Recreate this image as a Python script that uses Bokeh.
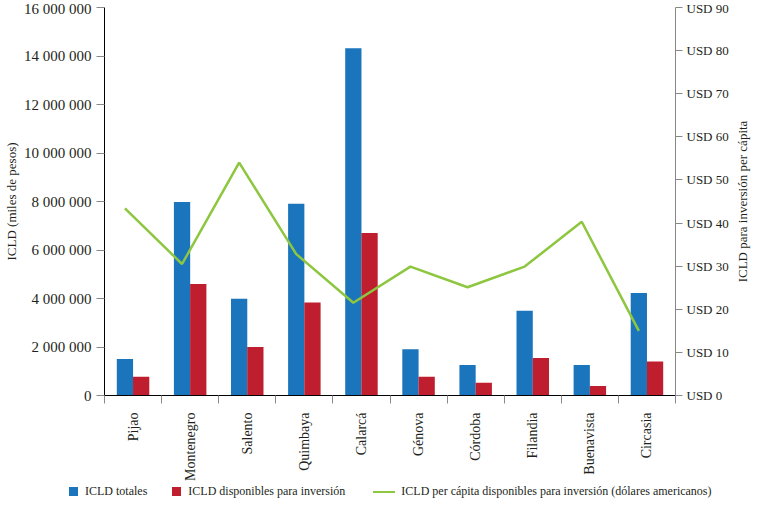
import numpy as np
from bokeh.plotting import figure
from bokeh.layouts import row, column
from bokeh.models import (Range1d, LinearAxis, FixedTicker, CustomJSTickFormatter,
                          ColumnDataSource, Div)
from bokeh.embed import file_html
from bokeh.resources import INLINE

categories = ["Pijao", "Montenegro", "Salento", "Quimbaya", "Calarcá",
              "Génova", "Córdoba", "Filandia", "Buenavista", "Circasia"]
icld_totales = [1510000, 7980000, 3990000, 7910000, 14320000,
                1910000, 1260000, 3490000, 1260000, 4230000]
icld_disponibles = [770000, 4600000, 2000000, 3840000, 6700000,
                    770000, 530000, 1550000, 390000, 1400000]
per_capita_usd = [43.4, 30.5, 54.0, 32.8, 21.5, 29.9, 25.1, 29.9, 40.3, 15.0]

left_ticks = [0, 2000000, 4000000, 6000000, 8000000, 10000000, 12000000, 14000000, 16000000]
left_tick_labels = ["0", "2 000 000", "4 000 000", "6 000 000", "8 000 000",
                    "10 000 000", "12 000 000", "14 000 000", "16 000 000"]
right_ticks = [0, 10, 20, 30, 40, 50, 60, 70, 80, 90]
right_tick_labels = ["USD 0", "USD 10", "USD 20", "USD 30", "USD 40",
                     "USD 50", "USD 60", "USD 70", "USD 80", "USD 90"]
legend_labels = ["ICLD totales", "ICLD disponibles para inversión",
                 "ICLD per cápita disponibles para inversión (dólares americanos)"]
left_title = "ICLD (miles de pesos)"
right_title = "ICLD para inversión per cápita"

BLUE = "#1b75bc"
RED = "#be1e2d"
GREEN = "#8dc63f"
TXT = "#231f20"
FONT = "Liberation Serif"

idx = np.arange(len(categories))
src = ColumnDataSource(dict(
    x_tot=idx + 0.5 - 0.142,
    x_disp=idx + 0.5 + 0.142,
    tot=icld_totales,
    disp=icld_disponibles,
    usd=per_capita_usd,
))

W_MAIN, W_SIDE = 731, 22
H_MAIN, H_LEG = 483, 16
frame_left, frame_right = 103, 679
frame_top, frame_bottom = 7, 396

p = figure(width=W_MAIN, height=H_MAIN, output_backend="svg", toolbar_location=None,
           x_range=Range1d(0, len(categories)), y_range=Range1d(0, 16000000),
           min_border_left=frame_left, min_border_right=W_MAIN - frame_right,
           min_border_top=frame_top, min_border_bottom=H_MAIN - frame_bottom,
           background_fill_color="white", border_fill_color="white")
p.extra_y_ranges = {"usd": Range1d(0, 90)}
p.outline_line_color = None
p.grid.visible = False

p.vbar(x="x_tot", top="tot", width=0.285, source=src, fill_color=BLUE, line_color=None)
p.vbar(x="x_disp", top="disp", width=0.285, source=src, fill_color=RED, line_color=None)
p.line(x="x_tot", y="usd", source=src, y_range_name="usd", line_color=GREEN, line_width=2.5)

# x axis
xa = p.xaxis[0]
xa.ticker = FixedTicker(ticks=list(idx + 0.5), minor_ticks=list(range(len(categories) + 1)))
xa.formatter = CustomJSTickFormatter(args=dict(labels=categories),
                                     code="return labels[Math.floor(tick)];")
xa.major_tick_line_color = None
xa.major_tick_out = 0
xa.major_tick_in = 0
xa.minor_tick_line_color = "#888888"
xa.minor_tick_out = 8
xa.minor_tick_in = 0
xa.axis_line_color = "black"
xa.major_label_standoff = 9
xa.major_label_orientation = np.pi / 2
xa.major_label_text_font = FONT
xa.major_label_text_font_size = "14px"
xa.major_label_text_color = TXT

# left axis
ya = p.yaxis[0]
ya.ticker = FixedTicker(ticks=left_ticks, minor_ticks=[])
ya.major_label_overrides = dict(zip(left_ticks, left_tick_labels))
ya.axis_line_color = "black"
ya.major_tick_line_color = "#888888"
ya.major_tick_out = 8
ya.major_tick_in = 0
ya.minor_tick_line_color = None
ya.major_label_standoff = 5
ya.major_label_text_font = FONT
ya.major_label_text_font_size = "15px"
ya.major_label_text_color = TXT
ya.axis_label = left_title
ya.axis_label_text_font = FONT
ya.axis_label_text_font_style = "normal"
ya.axis_label_text_font_size = "13px"
ya.axis_label_text_color = TXT
ya.axis_label_standoff = 2

# right axis (ticks and labels)
ra = LinearAxis(y_range_name="usd", ticker=FixedTicker(ticks=right_ticks, minor_ticks=[]))
ra.major_label_overrides = dict(zip(right_ticks, right_tick_labels))
ra.axis_line_color = "#888888"
ra.major_tick_line_color = "#888888"
ra.major_tick_out = 7
ra.major_tick_in = 0
ra.minor_tick_line_color = None
ra.major_label_standoff = 4
ra.major_label_text_font = FONT
ra.major_label_text_font_size = "13px"
ra.major_label_text_color = TXT
p.add_layout(ra, "right")

# right-hand title, reading upwards, centred on the plotting area
s = figure(width=W_SIDE, height=H_MAIN, output_backend="svg", toolbar_location=None,
           x_range=Range1d(0, 1), y_range=Range1d(0, 1), x_axis_location=None,
           min_border_left=0, min_border_right=0,
           min_border_top=frame_top, min_border_bottom=H_MAIN - frame_bottom,
           background_fill_color="white", border_fill_color="white")
s.outline_line_color = None
s.grid.visible = False
sa = s.yaxis[0]
sa.ticker = FixedTicker(ticks=[], minor_ticks=[])
sa.axis_line_color = None
sa.major_tick_line_color = None
sa.minor_tick_line_color = None
sa.major_tick_out = 0
sa.major_tick_in = 0
sa.major_label_standoff = 0
sa.major_label_text_font_size = "0px"
sa.axis_label = right_title
sa.axis_label_text_font = FONT
sa.axis_label_text_font_style = "normal"
sa.axis_label_text_font_size = "13px"
sa.axis_label_text_color = TXT
sa.axis_label_standoff = 0

# legend strip
def swatch(color, lead):
    return (f'<span style="display:inline-block;width:9px;height:9px;background:{color};'
            f'margin-left:{lead}px;margin-right:7px;vertical-align:-1px;"></span>')

line_sw = (f'<span style="display:inline-block;width:22px;height:0;border-top:2.5px solid {GREEN};'
           f'margin-left:28px;margin-right:6px;vertical-align:middle;"></span>')
html = (f'<div style="font-family:\'{FONT}\';font-size:12px;color:{TXT};white-space:nowrap;'
        f'line-height:16px;">'
        + swatch(BLUE, 69) + legend_labels[0]
        + swatch(RED, 25) + legend_labels[1]
        + line_sw + legend_labels[2] + '</div>')
leg = Div(text=html, width=W_MAIN + W_SIDE, height=H_LEG, margin=0)

layout = column(row(p, s, spacing=0), leg, spacing=0)
open("out.html", "w").write(file_html(layout, INLINE))
